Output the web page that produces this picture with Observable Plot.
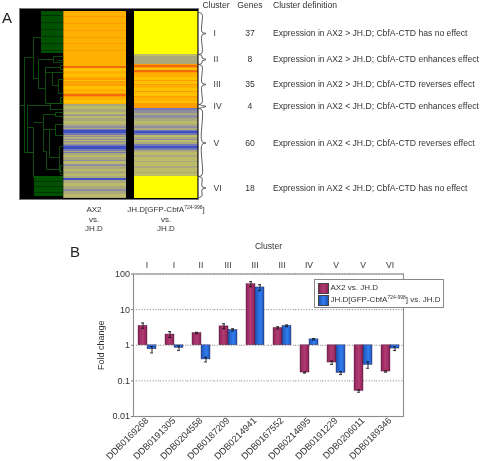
<!DOCTYPE html>
<html><head><meta charset="utf-8">
<script src="https://cdn.jsdelivr.net/npm/d3@7"></script>
<script src="https://cdn.jsdelivr.net/npm/@observablehq/plot@0.6"></script>
<style>
html,body{margin:0;padding:0;background:#fff}
#page{position:relative;width:481px;height:461px;overflow:hidden;font-family:"Liberation Sans",Arial,sans-serif;color:#333;filter:blur(.35px)}
#page svg{position:absolute;left:0;font-family:"Liberation Sans",Arial,sans-serif}
.t{position:absolute;white-space:nowrap;line-height:1}
.c{transform:translateX(-50%);text-align:center;font-size:8px}
sup{font-size:5px;line-height:0;vertical-align:baseline;position:relative;top:-3px}
.sw{position:absolute;left:3px;width:9px;height:9px;border:.5px solid #444}
</style></head><body><div id="page"></div>
<script>
// ---- Panel A data (row units, one row = top to bottom of the clustered list)
const codeKeys = ["Y","O","D","R","L","G","K","P","M","B"];
const codeColors = ["#ffff00","#ffb000","#ff9c00","#f4690c","#ffc200","#aaa87c","#bcbc68","#8e8ea0","#7678b4","#3f50c4"];
const ax2Runs = [[5,"O"],[1,"D"],[6,"O"],[1,"D"],[6,"O"],[1,"D"],[6,"O"],[1,"D"],[5,"O"],[1,"D"],[6,"O"],[1,"D"],[6,"O"],[9,"O"],[2,"R"],[3,"L"],[3,"O"],[2,"L"],[2,"O"],[2,"D"],[1,"L"],[2,"D"],[1,"O"],[2,"D"],[3,"L"],[3,"O"],[1,"L"],[1,"D"],[2,"R"],[1,"D"],[3,"O"],[3,"L"],[1,"O"],
[2,"G"],[3,"K"],[3,"G"],[2,"K"],[1,"G"],[1,"P"],[2,"K"],[3,"G"],[3,"K"],[2,"G"],[2,"P"],[1,"G"],[1,"M"],[3,"B"],[2,"M"],[1,"G"],[1,"P"],[1,"K"],[1,"G"],[1,"P"],[1,"K"],[1,"P"],[2,"G"],[1,"P"],[1,"M"],[3,"B"],[2,"M"],[1,"G"],[1,"M"],[2,"G"],[2,"K"],[3,"G"],[1,"P"],[3,"K"],[2,"P"],[3,"G"],[2,"K"],[3,"G"],[2,"K"],[2,"G"],[2,"B"],[3,"G"],[3,"K"],[3,"G"],[2,"P"],[3,"G"],[3,"K"],[1,"G"]];
const gfpRuns = [[43,"Y"],[2,"K"],[8,"G"],[1,"D"],[2,"R"],[1,"D"],[2,"L"],[2,"R"],[1,"D"],[4,"O"],[3,"L"],[1,"D"],[3,"L"],[1,"D"],[3,"O"],[3,"L"],[1,"D"],[4,"L"],[1,"D"],[4,"O"],[2,"L"],[5,"D"],
[2,"M"],[3,"P"],[2,"G"],[3,"P"],[3,"G"],[3,"K"],[2,"G"],[2,"P"],[2,"G"],[1,"M"],[2,"B"],[2,"M"],[2,"K"],[2,"G"],[1,"P"],[2,"K"],[2,"G"],[2,"M"],[2,"B"],[2,"M"],[2,"G"],[3,"K"],[2,"G"],[4,"K"],[1,"G"],[4,"K"],[2,"G"],[4,"K"],[1,"G"],[3,"K"],[22,"Y"]];
const blockTop = [[4,0],[1,1],[6,0],[1,1],[6,0],[1,1],[6,0],[1,1],[6,0],[1,1],[6,0],[1,1],[2,0]];
const blockBottom = [[5,0],[1,1],[4,0],[1,1],[5,0],[1,1],[3,0]];
const clusters = ["I","II","III","IV","V","VI"];
const genes = [37,8,35,4,60,18];
const clusterDefs = ["Expression in AX2 > JH.D; CbfA-CTD has no effect","Expression in AX2 > JH.D; CbfA-CTD enhances effect","Expression in AX2 > JH.D; CbfA-CTD reverses effect","Expression in AX2 < JH.D; CbfA-CTD enhances effect","Expression in AX2 < JH.D; CbfA-CTD reverses effect","Expression in AX2 < JH.D; CbfA-CTD has no effect"];
const clusterTop = [1,43,53,93,97,165];
const clusterBottom = [43,53,93,97,165,186];
const clusterMid = [22,48,73,95,131.5,176.5];
// tree links: [height1,row1,height2,row2]
const tree = [[44,94,39,94],[39,46,39,141],[39,46,30,46],[30,26,30,67],[30,26,22,26],[30,67,25,67],[25,48,25,77],[25,48,10,48],[10,45,10,51],[10,45,0,45],[10,51,0,51],[6,49,0,49],
[25,77,18,77],[18,56,18,92],[18,56,3,56],[3,54,3,58],[3,54,0,54],[3,58,0,58],[18,61,11,61],[11,61,11,74],[11,61,0,61],[11,74,5,74],[5,68,5,82],[5,68,0,68],[5,82,0,82],[18,92,3,92],[3,86,3,92],[3,86,0,86],[3,90,0,90],
[39,141,30,141],[30,166,30,116],[30,116,36,116],[36,94,36,141],[36,94,13,94],[13,92,13,98],[13,92,0,92],[13,98,0,98],[36,141,30,141],[30,166,29,166],
[30,111,20,111],[20,103,20,140],[20,103,8,103],[8,101,8,105],[8,101,0,101],[8,105,0,105],[20,118,14,118],[14,118,14,146],[14,118,8,118],[8,113,8,124],[8,113,0,113],[8,124,0,124],[14,146,4,146],[4,135,4,160],[4,135,0,135],[4,160,0,160],
[20,140,17,140],[17,140,17,158],[17,158,3,158],[3,154,3,163],[3,154,0,154],[3,163,0,163]];
const leafX = 63;
const columnsX = [[63.3,126],[134,197.4]];

const cum = runs => {let s=0; return runs.map(([n,c])=>{const r={y1:s,y2:s+n,c}; s+=n; return r;});};

// ---- Panel B data
const probes = ["DDB0169268","DDB0191305","DDB0204558","DDB0187209","DDB0214941","DDB0167552","DDB0214895","DDB0191229","DDB0206011","DDB0189346"];
const probeCluster = ["I","I","II","III","III","III","IV","V","V","VI"];
const ax2Fold = [3.5,2.0,2.2,3.4,52,3.06,0.171,0.327,0.052,0.182];
const ax2Low = [3.0,1.65,2.1,2.9,44,2.85,0.165,0.29,0.048,0.175];
const ax2High = [4.2,2.4,2.3,4.0,61,3.3,0.177,0.36,0.056,0.19];
const gfpFold = [0.77,0.84,0.40,2.7,42,3.5,1.47,0.167,0.28,0.805];
const gfpLow = [0.61,0.72,0.34,2.5,34,3.3,1.4,0.15,0.226,0.71];
const gfpHigh = [0.92,0.95,0.46,2.9,50,3.7,1.54,0.18,0.34,0.9];
const seriesNames = ["AX2 vs. JH.D","GFP vs. JH.D"];
const yTicks = [100,10,1,0.1,0.01];
const gridLines = [100,10,1,0.1];

const bars = probes.flatMap((p,i)=>[
 {p,s:seriesNames[0],v:ax2Fold[i],lo:ax2Low[i],hi:ax2High[i]},
 {p,s:seriesNames[1],v:gfpFold[i],lo:gfpLow[i],hi:gfpHigh[i]}]);

// ---- Panel A plot
const braces = clusterTop.map((t,i)=>{const b=clusterBottom[i],m=clusterMid[i],e=Math.min(1.5,(b-t)/4);
 return [[198.5,t],[201.5,t+e],[201.5,m-e],[205.5,m],[201.5,m+e],[201.5,b-e],[198.5,b]].map(([x,y])=>({x,y,i}));}).flat();
const rows = clusters.map((c,i)=>({c,g:genes[i],d:clusterDefs[i],m:clusterMid[i]}));
const mk = (runs,col)=>Plot.rect(cum(runs),{x1:()=>columnsX[col][0],x2:()=>columnsX[col][1],y1:"y1",y2:"y2",fill:"c"});
const panelA = Plot.plot({
 width:481,height:235,margin:0,
 x:{domain:[0,481],range:[0,481],axis:null},
 y:{domain:[0,187],range:[11,198],axis:null},
 color:{domain:codeKeys,range:codeColors},
 marks:[
  Plot.rect([0],{x1:()=>19.5,x2:()=>198.5,y1:()=>-2.5,y2:()=>188.5,fill:"#000",stroke:"#777",strokeWidth:1}),
  mk(ax2Runs,0),mk(gfpRuns,1),
  Plot.rect(cum(blockTop),{x1:()=>41,x2:()=>leafX,y1:"y1",y2:"y2",fill:d=>d.c?"#003400":"#005200"}),
  Plot.rect(cum(blockBottom),{x1:()=>34,x2:()=>leafX,y1:d=>d.y1+165,y2:d=>d.y2+165,fill:d=>d.c?"#003400":"#005200"}),
  Plot.link(tree,{x1:d=>leafX-d[0],y1:d=>d[1],x2:d=>leafX-d[2],y2:d=>d[3],stroke:"#125c12",strokeWidth:.8}),
  Plot.line(braces,{x:"x",y:"y",z:"i",stroke:"#333",strokeWidth:.8,curve:"catmull-rom"}),
  Plot.text(rows,{x:()=>213,y:"m",text:"c",fontSize:8.6,fill:"#333",textAnchor:"start"}),
  Plot.text(rows,{x:()=>249.5,y:"m",text:d=>String(d.g),fontSize:8.6,fill:"#333",textAnchor:"middle"}),
  Plot.text(rows,{x:()=>272.5,y:"m",text:"d",fontSize:8.6,fill:"#333",textAnchor:"start"}),
  Plot.text(["Cluster"],{x:()=>215.5,y:()=>-6,text:d=>d,fontSize:8.6,fill:"#333",textAnchor:"middle"}),
  Plot.text(["Genes"],{x:()=>249.5,y:()=>-6,text:d=>d,fontSize:8.6,fill:"#333",textAnchor:"middle"}),
  Plot.text(["Cluster definition"],{x:()=>272.5,y:()=>-6,text:d=>d,fontSize:8.6,fill:"#333",textAnchor:"start"})
 ]
});
panelA.style.top="0px";

// ---- Panel B plot
const defs = ()=>{const s=document.createElementNS("http://www.w3.org/2000/svg","defs");
 s.innerHTML=`<linearGradient id="gm"><stop offset="0" stop-color="#8a2458"/><stop offset=".5" stop-color="#b23a72"/><stop offset="1" stop-color="#8a2458"/></linearGradient>
 <linearGradient id="gb"><stop offset="0" stop-color="#1f55b4"/><stop offset=".6" stop-color="#2f7cf0"/><stop offset="1" stop-color="#1f55b4"/></linearGradient>`;
 const g=document.createElementNS("http://www.w3.org/2000/svg","g");g.appendChild(s);return g;};
const panelB = Plot.plot({
 width:481,height:226,
 marginTop:38.5,marginBottom:45,marginLeft:132,marginRight:77,
 fx:{domain:probes,padding:0,label:null},
 x:{domain:seriesNames,axis:null,paddingInner:0,paddingOuter:.478},
 y:{type:"log",domain:[0.01,100],label:null},
 color:{domain:seriesNames,range:["url(#gm)","url(#gb)"]},
 marks:[
  defs,
  Plot.ruleY(gridLines,{stroke:"#777",strokeDasharray:"1.2,1.6",strokeWidth:.8}),
  Plot.frame({stroke:"#8c8c8c",strokeWidth:1.1,facet:"super"}),
  Plot.axisY({ticks:yTicks,tickFormat:d=>String(d),tickSize:2,tickPadding:1.5,fontSize:9,stroke:"#777",color:"#333",label:"Fold change",labelAnchor:"center",labelArrow:"none",labelOffset:36}),
  Plot.axisFx({anchor:"top",tickSize:0,tickPadding:6.5,fontSize:8.6,color:"#333",tickFormat:p=>probeCluster[probes.indexOf(p)],label:"Cluster",labelAnchor:"center",labelArrow:"none",labelOffset:31}),
  Plot.axisFx({anchor:"bottom",tickSize:0,tickPadding:2.5,fontSize:9.2,color:"#333",tickRotate:-45,label:null}),
  Plot.barY(bars,{fx:"p",x:"s",y1:()=>1,y2:"v",fill:"s",stroke:"#3a1530",strokeWidth:.6,strokeOpacity:.6}),
  Plot.ruleX(bars,{fx:"p",x:"s",y1:"lo",y2:"hi",stroke:"#111",strokeWidth:.9}),
  Plot.tickY(bars,{fx:"p",x:"s",y:"lo",stroke:"#111",strokeWidth:.9,insetLeft:3,insetRight:3}),
  Plot.tickY(bars,{fx:"p",x:"s",y:"hi",stroke:"#111",strokeWidth:.9,insetLeft:3,insetRight:3})
 ]
});
panelB.style.top="235px";

const page=document.getElementById("page");
page.append(panelA,panelB);
page.insertAdjacentHTML("beforeend",`
<div class="t" style="left:2px;top:10px;font-size:15px;color:#222">A</div>
<div class="t" style="left:70px;top:244px;font-size:15px;color:#222">B</div>
<div class="t c" style="left:94px;top:205px;line-height:9.6px">AX2<br>vs.<br>JH.D</div>
<div class="t c" style="left:166px;top:205px;line-height:9.6px">JH.D[GFP-CbfA<sup>724-998</sup>]<br>vs.<br>JH.D</div>
<div class="t" style="left:313.5px;top:278.5px;width:128px;height:27px;background:#fff;border:1px solid #888;font-size:8px">
 <div class="sw" style="top:3px;background:linear-gradient(90deg,#8a2458,#b23a72,#8a2458)"></div>
 <div class="sw" style="top:15px;background:linear-gradient(90deg,#1f55b4,#2f7cf0,#1f55b4)"></div>
 <div class="t" style="left:16px;top:4px">AX2 vs. JH.D</div>
 <div class="t" style="left:16px;top:16px">JH.D[GFP-CbfA<sup>724-998</sup>] vs. JH.D</div>
</div>`);
</script></body></html>
